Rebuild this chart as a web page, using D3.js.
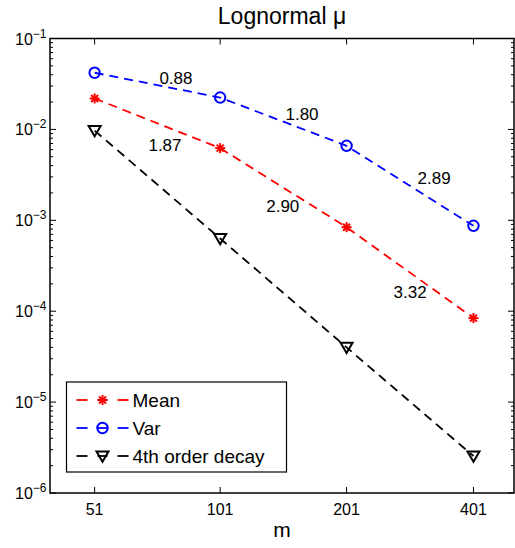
<!DOCTYPE html>
<html>
<head>
    <title>Lognormal mu</title>
    <script src="https://d3js.org/d3.v7.min.js"></script>
    <style>
        body { margin: 0; background: #fff; }
        text { font-family: "Liberation Sans", Arial, Helvetica, sans-serif; fill: #000; }
    </style>
</head>
<body>
    <svg width="515" height="548"></svg>

    <script>
        // values
        var mValues = [51, 101, 201, 401];
        var meanValues = [0.0219, 0.00622, 0.00084, 0.000084];
        var varValues = [0.042, 0.0224, 0.0066, 0.00087];
        var decayValues = [0.0097, 0.00063, 0.000040, 0.00000255];
        var yTickExps = [-1, -2, -3, -4, -5, -6];

        // rate labels (text, m, value)
        var rateText = ["0.88", "1.80", "2.89", "1.87", "2.90", "3.32"];
        var rateM = [79.4, 157.7, 323.6, 74.8, 142, 284];
        var rateV = [0.037, 0.01485, 0.00294, 0.00677, 0.00144, 0.000163];

        var series = [
            {name: "Mean", values: meanValues, color: "#ff0000", marker: "star"},
            {name: "Var", values: varValues, color: "#0000ff", marker: "circle"},
            {name: "4th order decay", values: decayValues, color: "#000000", marker: "tri"}
        ];

        var margin = {top: 38.5, right: 1, bottom: 55, left: 50},
            width = 515 - margin.left - margin.right,
            height = 548 - margin.top - margin.bottom;

        var x = d3.scaleLog().domain([40, 500]).range([0, width]);
        var y = d3.scaleLog().domain([1e-6, 1e-1]).range([height, 0]);

        var svg = d3.select("svg")
          .append("g")
            .attr("transform", "translate(" + margin.left + "," + margin.top + ")");

        // title
        svg.append("text")
            .attr("x", width / 2).attr("y", -15)
            .attr("text-anchor", "middle")
            .style("font-size", "23px")
            .text("Lognormal \u03bc");

        // ticks: major and minor on y, both sides
        var minor = [];
        for (var e = -6; e < -1; e++) {
            for (var k = 2; k <= 9; k++) minor.push(k * Math.pow(10, e));
        }
        var tickG = svg.append("g").attr("stroke", "#000").attr("stroke-width", 1);
        minor.forEach(function(v) {
            tickG.append("line").attr("x1", 0).attr("x2", 3).attr("y1", y(v)).attr("y2", y(v));
            tickG.append("line").attr("x1", width).attr("x2", width - 3).attr("y1", y(v)).attr("y2", y(v));
        });
        yTickExps.forEach(function(p) {
            var v = Math.pow(10, p);
            tickG.append("line").attr("x1", 0).attr("x2", 6).attr("y1", y(v)).attr("y2", y(v));
            tickG.append("line").attr("x1", width).attr("x2", width - 6).attr("y1", y(v)).attr("y2", y(v));
        });
        mValues.forEach(function(m) {
            tickG.append("line").attr("x1", x(m)).attr("x2", x(m)).attr("y1", height).attr("y2", height - 6);
            tickG.append("line").attr("x1", x(m)).attr("x2", x(m)).attr("y1", 0).attr("y2", 6);
        });

        // box
        svg.append("rect")
            .attr("width", width).attr("height", height)
            .attr("fill", "none").attr("stroke", "#000").attr("stroke-width", 1.5);

        // y tick labels 10^p
        yTickExps.forEach(function(p) {
            var t = svg.append("text")
                .attr("x", -35).attr("y", y(Math.pow(10, p)) + 6)
                .style("font-size", "16px");
            t.append("tspan").text("10");
            t.append("tspan").attr("dy", -7).style("font-size", "12px").text("\u2212" + Math.abs(p));
        });

        // x tick labels
        mValues.forEach(function(m) {
            svg.append("text")
                .attr("x", x(m)).attr("y", height + 22)
                .attr("text-anchor", "middle")
                .style("font-size", "16px")
                .text(m);
        });

        svg.append("text")
            .attr("x", width / 2).attr("y", height + 44)
            .attr("text-anchor", "middle")
            .style("font-size", "21px")
            .text("m");

        // markers
        function drawMarker(g, kind, color, cx, cy) {
            if (kind === "circle") {
                g.append("circle").attr("cx", cx).attr("cy", cy).attr("r", 5.2)
                    .attr("fill", "none").attr("stroke", color).attr("stroke-width", 2);
            } else if (kind === "star") {
                var r = 5;
                [[r, 0], [0, r], [r * 0.7, r * 0.7], [r * 0.7, -r * 0.7]].forEach(function(d) {
                    g.append("line").attr("x1", cx - d[0]).attr("y1", cy - d[1])
                        .attr("x2", cx + d[0]).attr("y2", cy + d[1])
                        .attr("stroke", color).attr("stroke-width", 2);
                });
            } else {
                var s = 6;
                g.append("path")
                    .attr("d", "M" + (cx - s) + "," + (cy - s * 0.75) + "L" + (cx + s) + "," + (cy - s * 0.75) +
                        "L" + cx + "," + (cy + s * 0.95) + "Z")
                    .attr("fill", "none").attr("stroke", color).attr("stroke-width", 2)
                    .attr("stroke-linejoin", "miter");
            }
        }

        var line = d3.line()
            .x(function(d, i) { return x(mValues[i]); })
            .y(function(d) { return y(d); });

        series.forEach(function(s) {
            svg.append("path")
                .datum(s.values)
                .attr("d", line)
                .attr("fill", "none")
                .attr("stroke", s.color)
                .attr("stroke-width", 1.8)
                .attr("stroke-dasharray", "9,6");
            var g = svg.append("g");
            s.values.forEach(function(v, i) {
                drawMarker(g, s.marker, s.color, x(mValues[i]), y(v));
            });
        });

        // rate annotations
        rateText.forEach(function(t, i) {
            svg.append("text")
                .attr("x", x(rateM[i])).attr("y", y(rateV[i]) + 6)
                .attr("text-anchor", "middle")
                .style("font-size", "17px")
                .text(t);
        });

        // legend
        var lg = svg.append("g").attr("transform", "translate(" + (66.5 - margin.left) + "," + (382 - margin.top) + ")");
        lg.append("rect").attr("width", 220).attr("height", 90)
            .attr("fill", "#fff").attr("stroke", "#000").attr("stroke-width", 1.2);
        series.forEach(function(s, i) {
            var ly = 18 + i * 28;
            [[10, 21], [31, 41], [51, 62]].forEach(function(seg) {
                lg.append("line").attr("x1", seg[0]).attr("x2", seg[1]).attr("y1", ly).attr("y2", ly)
                    .attr("stroke", s.color).attr("stroke-width", 1.8);
            });
            drawMarker(lg, s.marker, s.color, 36, ly);
            lg.append("text").attr("x", 66).attr("y", ly + 7)
                .style("font-size", "19px")
                .text(s.name);
        });
    </script>
</body>
</html>
